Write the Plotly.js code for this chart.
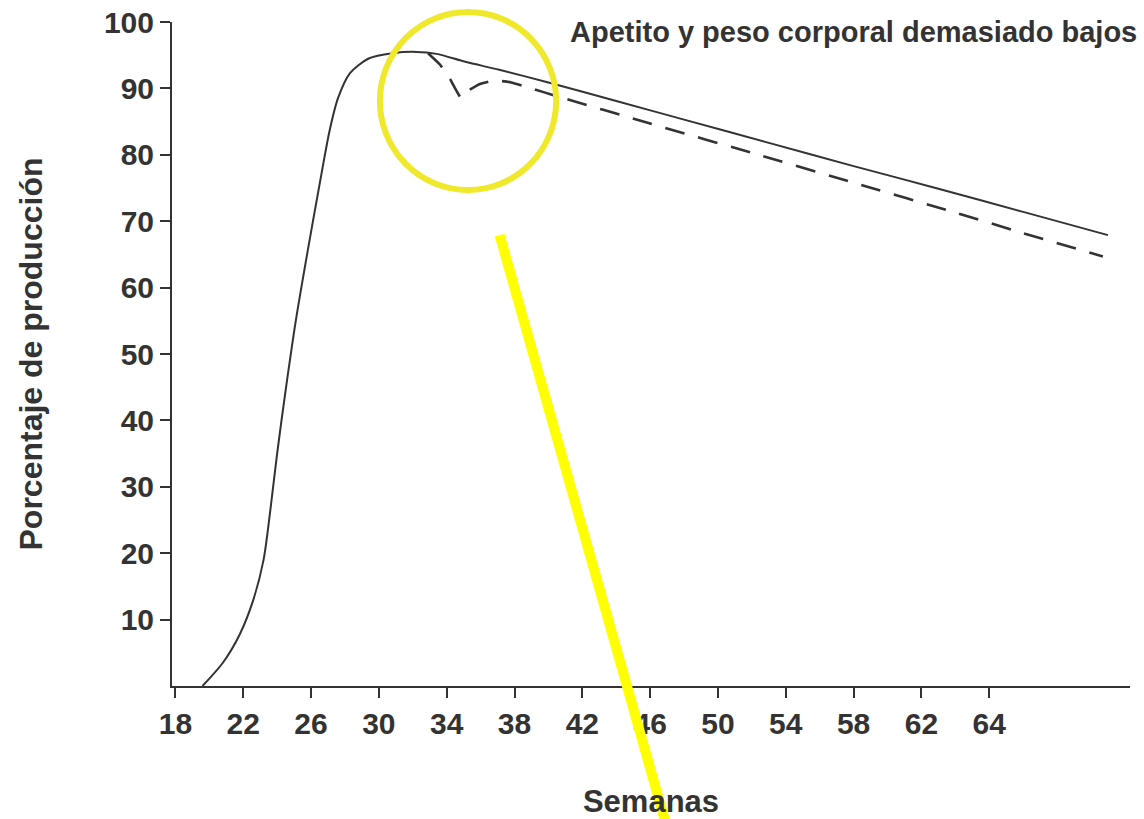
<!DOCTYPE html>
<html>
<head>
<meta charset="utf-8">
<script src="https://cdn.plot.ly/plotly-3.0.1.min.js"></script>
<style>html,body{margin:0;padding:0;background:#fff;}#chart{width:1144px;height:819px;}</style>
</head>
<body>
<div id="chart"></div>
<script>
// Axis positions (weeks); the last tick position is labelled "64" as in the source
const tickPositions = [18, 22, 26, 30, 34, 38, 42, 46, 50, 54, 58, 62, 66];
const tickLabels = ["18", "22", "26", "30", "34", "38", "42", "46", "50", "54", "58", "62", "64"];
const yTicks = [10, 20, 30, 40, 50, 60, 70, 80, 90, 100];

// Normal production curve (solid)
const normalWeeks = [19.6, 20.8, 21.8, 22.6, 23.2, 23.6, 24.0, 24.5, 25.1, 25.8, 26.5, 27.1, 27.6, 28.3, 29.4, 30.8, 32.2, 33.4, 35.1, 37.1, 40.0, 44, 48, 53, 58, 63, 68, 73];
const normalPct   = [0, 3.5, 7.8, 13, 19, 26.5, 35, 44.5, 55, 65.5, 75.5, 83.7, 88.6, 92.3, 94.5, 95.3, 95.5, 95.2, 94.0, 92.8, 90.9, 88.1, 85.3, 81.8, 78.3, 74.9, 71.4, 67.9];

// Appetite and body weight too low (dashed)
const lowWeeks = [32.9, 33.6, 34.2, 34.85, 35.3, 36.0, 36.8, 37.8, 39.0, 40.4, 46, 52.4, 58, 64, 68, 72.7];
const lowPct   = [95.3, 93.6, 91.4, 88.6, 89.7, 90.7, 91.2, 90.9, 90.0, 88.9, 84.7, 80.0, 75.8, 71.3, 68.2, 64.7];

const ink = '#333333';
const FONT = 'Liberation Sans, Arial, Helvetica, sans-serif';

const traces = [
  {x: normalWeeks, y: normalPct, type: 'scatter', mode: 'lines', name: 'Normal',
   line: {color: ink, width: 2, shape: 'spline', smoothing: 0.8}, hoverinfo: 'x+y'},
  {x: lowWeeks, y: lowPct, type: 'scatter', mode: 'lines', name: 'Apetito y peso corporal demasiado bajos',
   line: {color: ink, width: 2.6, dash: '20px,14px', shape: 'spline', smoothing: 0.4}, hoverinfo: 'x+y'}
];

const layout = {
  width: 1144, height: 819,
  margin: {l: 172, r: 14, t: 22, b: 133},
  paper_bgcolor: '#fff', plot_bgcolor: '#fff',
  showlegend: false,
  font: {family: FONT, color: ink},
  xaxis: {
    range: [17.8, 74.3], tickmode: 'array', tickvals: tickPositions, ticktext: tickLabels,
    showline: true, linecolor: ink, linewidth: 2, showgrid: false, zeroline: false,
    ticks: 'outside', ticklen: 10, tickwidth: 2, tickcolor: ink,
    tickfont: {size: 30, color: ink, family: FONT, weight: 'bold'},
    title: {text: 'Semanas', font: {size: 31, color: ink, family: FONT, weight: 'bold'}, standoff: 52}
  },
  yaxis: {
    range: [0, 100], tickmode: 'array', tickvals: yTicks,
    showline: true, linecolor: ink, linewidth: 2, showgrid: false, zeroline: false,
    ticks: 'outside', ticklen: 10, tickwidth: 2, tickcolor: ink,
    tickfont: {size: 30, color: ink, family: FONT, weight: 'bold'},
    title: {text: 'Porcentaje de producción', font: {size: 32, color: ink, family: FONT, weight: 'bold'}, standoff: 52}
  },
  annotations: [
    {xref: 'paper', yref: 'paper', x: 0.413, y: 0.985, xanchor: 'left', yanchor: 'middle',
     text: 'Apetito y peso corporal demasiado bajos', showarrow: false,
     font: {size: 29, color: ink, family: FONT, weight: 'bold'}}
  ],
  shapes: [
    {type: 'circle', xref: 'paper', yref: 'paper', x0: 0.217, x1: 0.401, y0: 0.747, y1: 1.015,
     line: {color: '#f0e82a', width: 6}, layer: 'above'},
    {type: 'line', xref: 'paper', yref: 'paper', x0: 0.342, y0: 0.679, x1: 0.515, y1: -0.205,
     line: {color: '#ffff00', width: 10}, layer: 'above'}
  ]
};

Plotly.newPlot('chart', traces, layout, {displayModeBar: false, staticPlot: true});
</script>
</body>
</html>
